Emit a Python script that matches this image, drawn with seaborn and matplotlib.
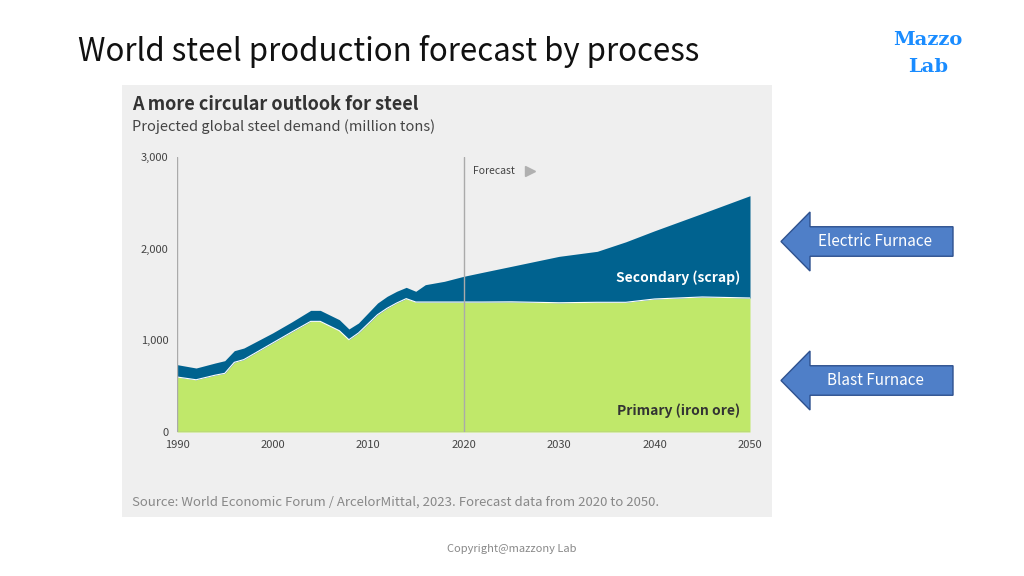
import matplotlib
matplotlib.use("Agg")
import matplotlib.pyplot as plt
import seaborn as sns
import numpy as np
from matplotlib.patches import Polygon

sns.set_theme(style="white")
plt.rcParams['font.family'] = ['Noto Sans CJK JP', 'DejaVu Sans']

years_hist = [1990, 1992, 1994, 1995, 1996, 1997, 2000, 2002, 2004, 2005, 2007, 2008, 2009, 2011, 2012, 2013, 2014, 2015, 2016, 2018, 2020]
primary_hist = [600, 570, 620, 640, 760, 790, 970, 1090, 1207, 1207, 1105, 1007, 1080, 1280, 1350, 1407, 1455, 1418, 1418, 1418, 1418]
total_hist = [735, 698, 753, 778, 887, 916, 1080, 1200, 1327, 1327, 1225, 1124, 1189, 1407, 1480, 1535, 1578, 1535, 1607, 1644, 1698]
years_fc = [2022, 2025, 2030, 2034, 2037, 2040, 2045, 2050]
primary_fc = [1418, 1420, 1410, 1415, 1415, 1451, 1473, 1462]
total_fc = [1742, 1807, 1916, 1971, 2075, 2195, 2385, 2578]

years = years_hist + years_fc
primary = primary_hist + primary_fc
total = total_hist + total_fc

W, H = 1024, 576
fig = plt.figure(figsize=(W/100, H/100), dpi=100)
fig.patch.set_facecolor("white")

def fx(x): return x / W
def fy(y): return 1 - y / H

bg = fig.add_axes([fx(122), fy(517), fx(772)-fx(122), fy(85)-fy(517)])
bg.set_facecolor("#efefef")
bg.set_xticks([]); bg.set_yticks([])
for s in bg.spines.values():
    s.set_visible(False)
bg.set_zorder(-1)

ax = fig.add_axes([fx(177), fy(432), fx(750)-fx(177), fy(157)-fy(432)])
ax.patch.set_alpha(0)
ax.fill_between(years, 0, primary, color="#c0e86a", lw=0)
ax.fill_between(years, primary, total, color="#00628f", lw=0)
sns.lineplot(x=years, y=primary, ax=ax, color="white", lw=0.8)
ax.set_xlim(1990, 2050)
ax.set_ylim(0, 3000)
ax.axvline(1990, color="#aaaaaa", lw=1)
ax.axvline(2020, color="#aaaaaa", lw=1)
for s in ax.spines.values():
    s.set_visible(False)
ax.axhline(0, color="#aaaaaa", lw=1)
ax.set_xticks([1990, 2000, 2010, 2020, 2030, 2040, 2050])
ax.set_yticks([0, 1000, 2000, 3000])
ax.set_yticklabels(["0", "1,000", "2,000", "3,000"])
ax.tick_params(labelsize=8, colors="#444444", length=0, pad=6)
ax.text(2021, 2850, "Forecast", fontsize=7.5, color="#444444", va="center")
ax.plot([2027], [2850], marker=">", color="#b0b0b0", ms=7)
ax.text(2049, 1680, "Secondary (scrap)", fontsize=10, color="white", ha="right", fontweight="bold", va="center")
ax.text(2049, 230, "Primary (iron ore)", fontsize=10, color="#333333", ha="right", fontweight="bold", va="center")

fig.text(fx(132), fy(104), "A more circular outlook for steel", fontsize=13, fontweight="bold", color="#333333", va="center")
fig.text(fx(132), fy(127), "Projected global steel demand (million tons)", fontsize=10.5, color="#444444", va="center")
fig.text(fx(132), fy(502), "Source: World Economic Forum / ArcelorMittal, 2023. Forecast data from 2020 to 2050.",
         fontsize=9.5, color="#888888", va="center")

fig.text(fx(78), fy(52), "World steel production forecast by process", fontsize=22.5, color="#111111", va="center")
fig.text(fx(928), fy(40), "Mazzo", fontsize=14, fontweight="bold", color="#1a8cff", ha="center", va="center", family="DejaVu Serif")
fig.text(fx(928), fy(67), "Lab", fontsize=14, fontweight="bold", color="#1a8cff", ha="center", va="center", family="DejaVu Serif")
fig.text(0.5, fy(549), "Copyright@mazzony Lab", fontsize=8, color="#888888", ha="center", va="center")

def arrow(y0, y1, label):
    ym = (y0 + y1) / 2
    h = y1 - y0
    pts = [(781, ym), (810, y0), (810, y0 + h*0.25), (953, y0 + h*0.25),
           (953, y1 - h*0.25), (810, y1 - h*0.25), (810, y1)]
    fig.patches.append(Polygon([(fx(x), fy(y)) for x, y in pts], closed=True, transform=fig.transFigure,
                               facecolor="#4f7fc8", edgecolor="#2f528f", lw=1))
    fig.text(fx(875), fy(ym), label, fontsize=11, color="white", ha="center", va="center")

arrow(212, 271, "Electric Furnace")
arrow(351, 410, "Blast Furnace")

fig.savefig("out.png", dpi=100, facecolor="white")
